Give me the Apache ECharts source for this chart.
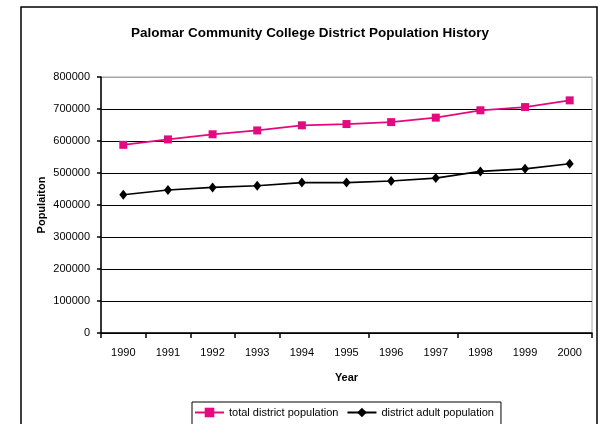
<!DOCTYPE html>
<html>
<head>
<meta charset="utf-8">
<script src="https://cdn.jsdelivr.net/npm/echarts@6/dist/echarts.min.js"></script>
<style>html,body{margin:0;padding:0;background:#fff}#c{width:601px;height:424px}</style>
</head>
<body>
<div id="c"></div>
<script>
var years = ['1990','1991','1992','1993','1994','1995','1996','1997','1998','1999','2000'];
var totalPopulation = [588000, 605000, 621000, 633000, 649000, 653000, 659000, 673000, 696000, 706000, 727000];
var adultPopulation = [432000, 447000, 455000, 460000, 470000, 470000, 475000, 484000, 505000, 513000, 529000];
var yTicks = [0, 100000, 200000, 300000, 400000, 500000, 600000, 700000, 800000];
var tickedBoundaries = [0, 1, 2, 3, 4, 6, 8];

var FONT = 'Arial, "Liberation Sans", sans-serif';
var chart = echarts.init(document.getElementById('c'), null, {renderer: 'canvas'});
chart.setOption({
  animation: false,
  backgroundColor: '#fff',
  title: {
    text: 'Palomar Community College District Population History',
    left: 305, top: 21, textAlign: 'center',
    textStyle: {fontFamily: FONT, fontSize: 13.5, fontWeight: 'bold', color: '#000'}
  },
  graphic: [{
    type: 'rect', shape: {x: 21, y: 7, width: 576, height: 430}, silent: true, z: -1,
    style: {fill: 'none', stroke: '#000', lineWidth: 1.5}
  }],
  legend: {
    left: 192, top: 402,
    padding: [5, 7, 9, 2],
    itemGap: 8, itemWidth: 29, itemHeight: 12,
    borderColor: '#000', borderWidth: 1,
    textStyle: {fontFamily: FONT, fontSize: 11, color: '#000'},
    data: ['total district population', 'district adult population']
  },
  grid: {left: 101, top: 77, right: 9, bottom: 91, show: true, borderColor: '#a6a6a6', borderWidth: 1, backgroundColor: 'transparent'},
  xAxis: {
    type: 'category', data: years, boundaryGap: true,
    name: 'Year', nameLocation: 'middle', nameGap: 39, nameMoveOverlap: false,
    nameTextStyle: {fontFamily: FONT, fontSize: 11, fontWeight: 'bold', color: '#000'},
    axisLine: {lineStyle: {color: '#000', width: 1.5}},
    axisTick: {show: true, length: 5, lineStyle: {color: '#000', width: 1.5}, interval: function (i) { return tickedBoundaries.indexOf(i) >= 0; }},
    axisLabel: {margin: 14, fontFamily: FONT, fontSize: 11, color: '#000', interval: 0}
  },
  yAxis: {
    type: 'value', min: yTicks[0], max: yTicks[yTicks.length - 1], interval: 100000,
    name: 'Populaiton', nameLocation: 'middle', nameGap: 54, nameRotate: 90, nameMoveOverlap: false,
    nameTextStyle: {fontFamily: FONT, fontSize: 11, fontWeight: 'bold', color: '#000'},
    axisLine: {show: true, lineStyle: {color: '#000', width: 1.5}},
    axisTick: {show: true, length: 4, lineStyle: {color: '#000', width: 1.5}},
    axisLabel: {margin: 11, fontFamily: FONT, fontSize: 11, color: '#000', formatter: function (v) { return String(v); }},
    splitLine: {show: true, lineStyle: {color: ['#000','#000','#000','#000','#000','#000','#000','#000','#a6a6a6'], width: 1.2}}
  },
  series: [{
    name: 'total district population', type: 'line', data: totalPopulation,
    symbol: 'rect', symbolSize: 8, showAllSymbol: true,
    lineStyle: {color: '#E4097F', width: 1.8},
    itemStyle: {color: '#E4097F'}
  }, {
    name: 'district adult population', type: 'line', data: adultPopulation,
    symbol: 'diamond', symbolSize: [8, 10], showAllSymbol: true,
    lineStyle: {color: '#000', width: 1.6},
    itemStyle: {color: '#000'}
  }]
});
</script>
</body>
</html>
